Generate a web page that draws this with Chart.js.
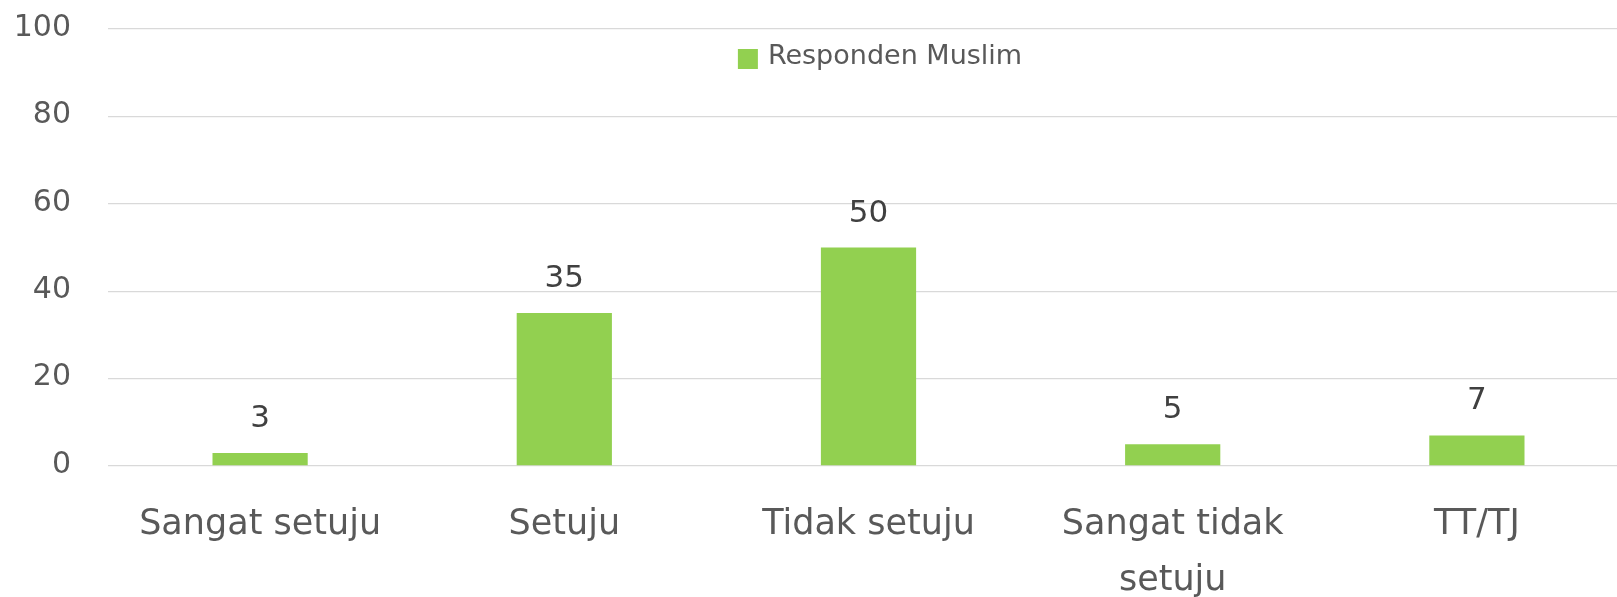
<!DOCTYPE html>
<html>
<head>
<meta charset="utf-8">
<script src="https://cdn.jsdelivr.net/npm/chart.js@4.4.1/dist/chart.umd.min.js"></script>
<style>
  html, body { margin: 0; padding: 0; background: #ffffff; overflow: hidden; }
  #wrap { position: absolute; left: 0; top: 0; width: 1629px; height: 597px; }
</style>
</head>
<body>
<div id="wrap"><canvas id="c" width="1629" height="597" style="width:1629px;height:597px"></canvas></div>
<script>
const categories = ["Sangat setuju", "Setuju", "Tidak setuju", ["Sangat tidak", "setuju"], "TT/TJ"];
const seriesName = "Responden Muslim";
const seriesValues = [3, 35, 50, 5, 7];
const yTicks = [0, 20, 40, 60, 80, 100];

const FONT = "'DejaVu Sans', sans-serif";

const valueLabels = {
  id: 'valueLabels',
  afterDatasetsDraw(chart) {
    const ctx = chart.ctx;
    const meta = chart.getDatasetMeta(0);
    ctx.save();
    ctx.font = "31px " + FONT;
    ctx.fillStyle = '#404040';
    ctx.textAlign = 'center';
    ctx.textBaseline = 'middle';
    meta.data.forEach((bar, i) => {
      ctx.fillText(String(chart.data.datasets[0].data[i]), bar.x, bar.y - 34);
    });
    ctx.restore();
  }
};

// Legend drawn inside the plot area, near the top, as in the reference
const innerLegend = {
  id: 'innerLegend',
  afterDraw(chart) {
    const ctx = chart.ctx;
    const ds = chart.data.datasets[0];
    const area = chart.chartArea;
    ctx.save();
    ctx.font = "27px " + FONT;
    const tw = ctx.measureText(ds.label).width;
    const box = 20, gap = 10;
    const total = box + gap + tw;
    const cx = (area.left + area.right) / 2 + 11.5;
    const x0 = cx - total / 2;
    const baseline = area.top + 34.5;
    ctx.fillStyle = ds.backgroundColor;
    ctx.fillRect(x0, area.top + 20, box, box);
    ctx.fillStyle = '#595959';
    ctx.textAlign = 'left';
    ctx.textBaseline = 'alphabetic';
    ctx.fillText(ds.label, x0 + box + gap, baseline);
    ctx.restore();
  }
};

new Chart(document.getElementById('c'), {
  type: 'bar',
  data: {
    labels: categories,
    datasets: [{
      label: seriesName,
      data: seriesValues,
      backgroundColor: '#92D050',
      borderWidth: 0,
      categoryPercentage: 1.0,
      barPercentage: 0.313
    }]
  },
  options: {
    responsive: false,
    animation: false,
    events: [],
    layout: { padding: { top: 29, left: 0, right: 0, bottom: 0 } },
    plugins: {
      tooltip: { enabled: false },
      legend: { display: false }
    },
    scales: {
      x: {
        grid: { display: false, drawTicks: false },
        border: { display: false },
        ticks: {
          color: '#595959',
          padding: 31,
          maxRotation: 0,
          autoSkip: false,
          font: { family: FONT, size: 35, lineHeight: 1.6 }
        },
        afterFit(scale) { scale.height = 131; scale.paddingLeft = 0; scale.paddingRight = 0; }
      },
      y: {
        min: 0,
        max: 100,
        afterBuildTicks(scale) { scale.ticks = yTicks.map(v => ({ value: v })); },
        grid: { color: '#d9d9d9', lineWidth: 1.3, drawTicks: false },
        border: { display: false },
        ticks: {
          color: '#595959',
          padding: 37,
          labelOffset: -1,
          font: { family: FONT, size: 30 }
        },
        afterFit(scale) { scale.width = 108; scale.paddingTop = 0; scale.paddingBottom = 0; }
      }
    }
  },
  plugins: [valueLabels, innerLegend]
});
</script>
</body>
</html>
